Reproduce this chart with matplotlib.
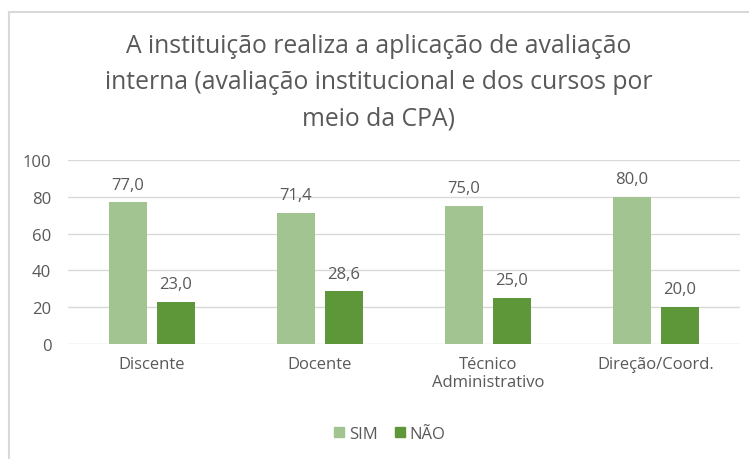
import matplotlib
matplotlib.use("Agg")
import matplotlib.pyplot as plt
import numpy as np
from matplotlib.lines import Line2D

categories = ["Discente", "Docente", "Técnico\nAdministrativo", "Direção/Coord."]
sim = [77.0, 71.4, 75.0, 80.0]
nao = [23.0, 28.6, 25.0, 20.0]
series_names = ["SIM", "NÃO"]
yticks = [0, 20, 40, 60, 80, 100]
title = "A instituição realiza a aplicação de avaliação\ninterna (avaliação institucional e dos cursos por\nmeio da CPA)"

plt.rcParams['font.family'] = ['Open Sans', 'DejaVu Sans']
W, H = 749, 460
fig = plt.figure(figsize=(W/100, H/100), dpi=100)
txt = '#595959'
c_sim = '#A1C490'
c_nao = '#5E973A'
fs = 12

ax = fig.add_axes([68/W, 1-345/H, 672/W, 184/H])
x = np.arange(len(categories))
bw = 0.226
b1 = ax.bar(x - 0.143, sim, bw, color=c_sim, zorder=3)
b2 = ax.bar(x + 0.143, nao, bw, color=c_nao, zorder=3)
for bars, vals in ((b1, sim), (b2, nao)):
    for r, v in zip(bars, vals):
        ax.annotate(f"{v:.1f}".replace('.', ','), (r.get_x()+r.get_width()/2, v),
                    xytext=(0, 7), textcoords='offset points', ha='center', va='bottom',
                    fontsize=fs, color=txt)
ax.set_xlim(-0.5, len(categories)-0.5)
ax.set_ylim(0, 100)
ax.set_yticks(yticks)
ax.set_yticklabels([str(t) for t in yticks], fontsize=fs, color=txt)
ax.set_xticks(x)
ax.set_xticklabels(categories, fontsize=fs, color=txt, linespacing=1.1)
ax.tick_params(axis='both', length=0)
ax.tick_params(axis='y', pad=12)
ax.tick_params(axis='x', pad=9)
ax.grid(axis='y', color='#D9D9D9', linewidth=1, zorder=0)
for s in ax.spines.values():
    s.set_visible(False)

fig.text(379/W, 1-83/H, title, ha='center', va='center', fontsize=17.8, color=txt, linespacing=1.6)

handles = [plt.Rectangle((0, 0), 1, 1, color=c_sim), plt.Rectangle((0, 0), 1, 1, color=c_nao)]
fig.legend(handles, series_names, loc='center', bbox_to_anchor=(390/W, 1-435/H), ncol=2,
           frameon=False, fontsize=fs, labelcolor=txt, handlelength=0.6, handleheight=0.6,
           handletextpad=0.3, columnspacing=1.0)

fig.add_artist(Line2D([8.5/W, 8.5/W], [0, 1-12.5/H], transform=fig.transFigure, color='#D9D9D9', lw=1.5))
fig.add_artist(Line2D([8.5/W, 1], [1-12.5/H, 1-12.5/H], transform=fig.transFigure, color='#D9D9D9', lw=1.5))

fig.savefig("out.png", dpi=100)
